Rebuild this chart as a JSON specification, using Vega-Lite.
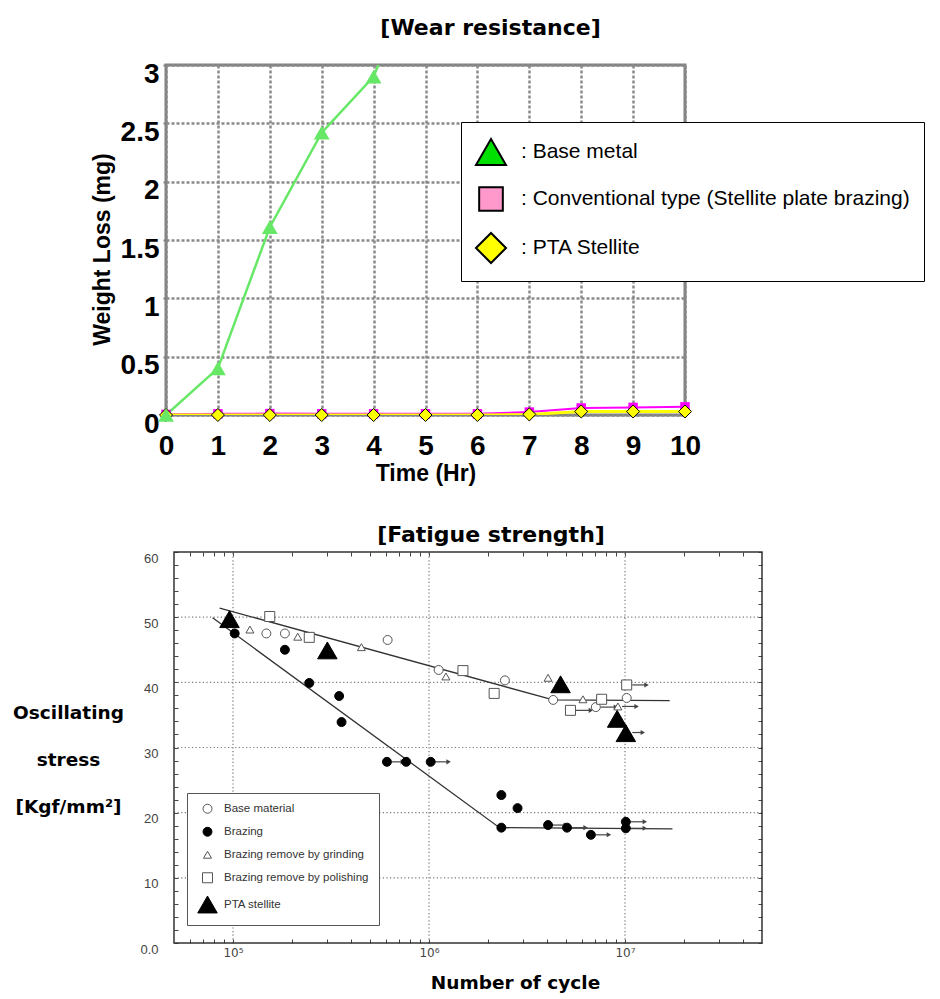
{
  "$schema": "https://vega.github.io/schema/vega-lite/v6.json",
  "background": "white",
  "padding": {"left": 12, "top": 15, "right": 5, "bottom": 5},
  "spacing": 37,
  "config": {"view": {"stroke": null}},
  "resolve": {
    "scale": {"color": "independent", "shape": "independent", "fill": "independent", "stroke": "independent", "size": "independent"},
    "legend": {"color": "independent", "shape": "independent", "fill": "independent", "stroke": "independent", "size": "independent"}
  },
  "datasets": {
    "wear": [
      {"metal": "Conventional type (Stellite plate brazing)", "time": 0, "loss": 0.005},
      {"metal": "Conventional type (Stellite plate brazing)", "time": 1, "loss": 0.01},
      {"metal": "Conventional type (Stellite plate brazing)", "time": 2, "loss": 0.012},
      {"metal": "Conventional type (Stellite plate brazing)", "time": 3, "loss": 0.01},
      {"metal": "Conventional type (Stellite plate brazing)", "time": 4, "loss": 0.01},
      {"metal": "Conventional type (Stellite plate brazing)", "time": 5, "loss": 0.01},
      {"metal": "Conventional type (Stellite plate brazing)", "time": 6, "loss": 0.01},
      {"metal": "Conventional type (Stellite plate brazing)", "time": 7, "loss": 0.025},
      {"metal": "Conventional type (Stellite plate brazing)", "time": 8, "loss": 0.06},
      {"metal": "Conventional type (Stellite plate brazing)", "time": 9, "loss": 0.065},
      {"metal": "Conventional type (Stellite plate brazing)", "time": 10, "loss": 0.07},
      {"metal": "PTA Stellite", "time": 0, "loss": 0},
      {"metal": "PTA Stellite", "time": 1, "loss": 0},
      {"metal": "PTA Stellite", "time": 2, "loss": 0},
      {"metal": "PTA Stellite", "time": 3, "loss": 0},
      {"metal": "PTA Stellite", "time": 4, "loss": 0},
      {"metal": "PTA Stellite", "time": 5, "loss": 0},
      {"metal": "PTA Stellite", "time": 6, "loss": 0},
      {"metal": "PTA Stellite", "time": 7, "loss": 0.005},
      {"metal": "PTA Stellite", "time": 8, "loss": 0.03},
      {"metal": "PTA Stellite", "time": 9, "loss": 0.03},
      {"metal": "PTA Stellite", "time": 10, "loss": 0.03},
      {"metal": "Base metal", "time": 0, "loss": 0},
      {"metal": "Base metal", "time": 1, "loss": 0.4},
      {"metal": "Base metal", "time": 2, "loss": 1.61},
      {"metal": "Base metal", "time": 3, "loss": 2.42},
      {"metal": "Base metal", "time": 4, "loss": 2.9},
      {"metal": "Base metal", "time": 5, "loss": 4.0}
    ],
    "fatigue": [
      {"series": "Base material", "n": 148000, "s": 47.5},
      {"series": "Base material", "n": 184000, "s": 47.5},
      {"series": "Base material", "n": 615000, "s": 46.5},
      {"series": "Base material", "n": 1120000, "s": 41.9},
      {"series": "Base material", "n": 2440000, "s": 40.3},
      {"series": "Base material", "n": 4300000, "s": 37.3},
      {"series": "Base material", "n": 7100000, "s": 36.2},
      {"series": "Base material", "n": 10200000, "s": 37.6},
      {"series": "Brazing", "n": 102000, "s": 47.5},
      {"series": "Brazing", "n": 184000, "s": 45.0},
      {"series": "Brazing", "n": 245000, "s": 39.9},
      {"series": "Brazing", "n": 348000, "s": 37.9},
      {"series": "Brazing", "n": 358000, "s": 33.9},
      {"series": "Brazing", "n": 610000, "s": 27.8},
      {"series": "Brazing", "n": 765000, "s": 27.8},
      {"series": "Brazing", "n": 1020000, "s": 27.8},
      {"series": "Brazing", "n": 2340000, "s": 22.7},
      {"series": "Brazing", "n": 2830000, "s": 20.7},
      {"series": "Brazing", "n": 2340000, "s": 17.7},
      {"series": "Brazing", "n": 4050000, "s": 18.1},
      {"series": "Brazing", "n": 5060000, "s": 17.7},
      {"series": "Brazing", "n": 6700000, "s": 16.6},
      {"series": "Brazing", "n": 10100000, "s": 18.6},
      {"series": "Brazing", "n": 10100000, "s": 17.6},
      {"series": "Brazing remove by grinding", "n": 122000, "s": 48.1},
      {"series": "Brazing remove by grinding", "n": 214000, "s": 47.0},
      {"series": "Brazing remove by grinding", "n": 452000, "s": 45.4},
      {"series": "Brazing remove by grinding", "n": 1220000, "s": 40.9},
      {"series": "Brazing remove by grinding", "n": 4050000, "s": 40.7},
      {"series": "Brazing remove by grinding", "n": 6100000, "s": 37.4},
      {"series": "Brazing remove by grinding", "n": 9200000, "s": 36.3},
      {"series": "Brazing remove by polishing", "n": 154000, "s": 50.1},
      {"series": "Brazing remove by polishing", "n": 245000, "s": 46.9},
      {"series": "Brazing remove by polishing", "n": 1490000, "s": 41.8},
      {"series": "Brazing remove by polishing", "n": 2150000, "s": 38.3},
      {"series": "Brazing remove by polishing", "n": 5270000, "s": 35.7},
      {"series": "Brazing remove by polishing", "n": 7600000, "s": 37.4},
      {"series": "Brazing remove by polishing", "n": 10200000, "s": 39.6},
      {"series": "PTA stellite", "n": 96000, "s": 49.7},
      {"series": "PTA stellite", "n": 303000, "s": 44.9},
      {"series": "PTA stellite", "n": 4690000, "s": 39.7},
      {"series": "PTA stellite", "n": 9120000, "s": 34.4},
      {"series": "PTA stellite", "n": 10100000, "s": 32.2}
    ],
    "fit": [
      {"line": "upper", "n": 85500, "s": 51.4},
      {"line": "upper", "n": 4300000, "s": 37.3},
      {"line": "upper", "n": 16900000, "s": 37.2},
      {"line": "lower", "n": 78700, "s": 49.9},
      {"line": "lower", "n": 2290000, "s": 17.7},
      {"line": "lower", "n": 17460000, "s": 17.5}
    ],
    "arrows": [
      {"n1": 647000, "n2": 735000, "s": 27.8},
      {"n1": 1072000, "n2": 1259000, "s": 27.8},
      {"n1": 4266000, "n2": 4989000, "s": 18.1},
      {"n1": 5321000, "n2": 6295000, "s": 17.7},
      {"n1": 7079000, "n2": 8279000, "s": 16.6},
      {"n1": 10640000, "n2": 12620000, "s": 18.6},
      {"n1": 10640000, "n2": 12620000, "s": 17.6},
      {"n1": 5585000, "n2": 6699000, "s": 35.7},
      {"n1": 7516000, "n2": 8995000, "s": 36.2},
      {"n1": 9661000, "n2": 11460000, "s": 36.3},
      {"n1": 10890000, "n2": 12880000, "s": 39.6},
      {"n1": 10890000, "n2": 12330000, "s": 32.3}
    ],
    "gridH": [{"s": 10}, {"s": 20}, {"s": 30}, {"s": 40}, {"s": 50}],
    "gridV": [{"n": 100000}, {"n": 1000000}, {"n": 10000000}]
  },
  "vconcat": [
    {
      "width": 519,
      "height": 350,
      "view": {"stroke": "#808080", "strokeWidth": 3},
      "title": {"text": "[Wear resistance]", "font": "DejaVu Sans", "fontSize": 22, "fontWeight": "bold", "color": "black", "anchor": "middle", "frame": "group", "dx": 65, "baseline": "alphabetic", "offset": 3},
      "data": {"name": "wear"},
      "layer": [
        {
          "transform": [{"filter": "datum.metal === 'Conventional type (Stellite plate brazing)'"}],
          "mark": {"type": "line", "clip": true, "strokeWidth": 2, "color": "#ff00ff"},
          "encoding": {
            "x": {"field": "time", "type": "quantitative", "scale": {"domain": [0, 10], "nice": false, "zero": false},
              "axis": {"values": [0, 1, 2, 3, 4, 5, 6, 7, 8, 9, 10], "title": "Time (Hr)", "titleFont": "Liberation Sans", "titleFontSize": 23, "titleFontWeight": "bold", "titleColor": "black", "titleBaseline": "alphabetic", "titleY": 65,
                "labelFont": "Liberation Sans", "labelFontSize": 28, "labelFontWeight": "bold", "labelColor": "black", "labelPadding": 17, "labelFlush": false, "labelOverlap": false,
                "ticks": false, "domain": false, "grid": true, "gridColor": "#8a8a8a", "gridDash": [3, 2], "gridWidth": 2.5}},
            "y": {"field": "loss", "type": "quantitative", "scale": {"domain": [0, 3], "nice": false},
              "axis": {"values": [0, 0.5, 1, 1.5, 2, 2.5, 3], "format": "~g", "title": "Weight Loss (mg)", "titleFont": "Liberation Sans", "titleFontSize": 23, "titleFontWeight": "bold", "titleColor": "black", "titleAngle": -90, "titleAlign": "center", "titleBaseline": "middle", "titleX": -64, "titleY": 184,
                "labelFont": "Liberation Sans", "labelFontSize": 28, "labelFontWeight": "bold", "labelColor": "black", "labelPadding": 4, "labelOffset": 9, "labelFlush": false, "labelOverlap": false,
                "ticks": true, "tickSize": 3, "tickColor": "#808080", "tickWidth": 2, "domain": false, "grid": true, "gridColor": "#8a8a8a", "gridDash": [3, 2], "gridWidth": 2.5}}
          }
        },
        {
          "transform": [{"filter": "datum.metal === 'PTA Stellite'"}],
          "mark": {"type": "line", "clip": true, "strokeWidth": 3, "color": "#ffff00"},
          "encoding": {
            "x": {"field": "time", "type": "quantitative"},
            "y": {"field": "loss", "type": "quantitative"}
          }
        },
        {
          "transform": [{"filter": "datum.metal === 'Base metal'"}],
          "mark": {"type": "line", "clip": true, "strokeWidth": 2.5, "color": "#66e866"},
          "encoding": {
            "x": {"field": "time", "type": "quantitative"},
            "y": {"field": "loss", "type": "quantitative"}
          }
        },
        {
          "transform": [{"filter": "datum.metal === 'Conventional type (Stellite plate brazing)' && datum.loss <= 3"}],
          "mark": {"type": "point", "shape": "square", "filled": true, "color": "#ff00ff", "size": 90, "opacity": 1},
          "encoding": {
            "x": {"field": "time", "type": "quantitative"},
            "y": {"field": "loss", "type": "quantitative"}
          }
        },
        {
          "transform": [{"filter": "datum.metal === 'PTA Stellite' && datum.loss <= 3"}],
          "mark": {"type": "point", "shape": "diamond", "filled": true, "fill": "#ffff00", "stroke": "black", "strokeWidth": 1, "size": 170, "opacity": 1},
          "encoding": {
            "x": {"field": "time", "type": "quantitative"},
            "y": {"field": "loss", "type": "quantitative"}
          }
        },
        {
          "transform": [{"filter": "datum.metal === 'Base metal' && datum.loss <= 3"}],
          "mark": {"type": "point", "shape": "triangle-up", "filled": true, "color": "#66e866", "size": 250, "opacity": 1},
          "encoding": {
            "x": {"field": "time", "type": "quantitative"},
            "y": {"field": "loss", "type": "quantitative"}
          }
        },
        {
          "transform": [{"filter": "false"}],
          "mark": {"type": "point", "filled": true, "strokeWidth": 2, "opacity": 1},
          "encoding": {
            "x": {"field": "time", "type": "quantitative"},
            "y": {"field": "loss", "type": "quantitative"},
            "shape": {"field": "metal", "type": "nominal",
              "scale": {"domain": ["Base metal", "Conventional type (Stellite plate brazing)", "PTA Stellite"], "range": ["triangle-up", "square", "diamond"]},
              "legend": {"orient": "none", "legendX": 295, "legendY": 57, "title": null, "padding": 14, "strokeColor": "black", "fillColor": "white",
                "rowPadding": 14, "labelFont": "Liberation Sans", "labelFontSize": 21, "labelColor": "black", "labelOffset": 14, "labelLimit": 600,
                "symbolStrokeWidth": 2, "symbolOpacity": 1, "labelExpr": "': ' + datum.label"}},
            "fill": {"field": "metal", "type": "nominal",
              "scale": {"domain": ["Base metal", "Conventional type (Stellite plate brazing)", "PTA Stellite"], "range": ["#00e000", "#ff99cc", "#ffff00"]},
              "legend": {"orient": "none", "legendX": 295, "legendY": 57, "title": null}},
            "stroke": {"field": "metal", "type": "nominal",
              "scale": {"domain": ["Base metal", "Conventional type (Stellite plate brazing)", "PTA Stellite"], "range": ["black", "black", "black"]},
              "legend": {"orient": "none", "legendX": 295, "legendY": 57, "title": null}},
            "size": {"field": "metal", "type": "nominal",
              "scale": {"type": "ordinal", "domain": ["Base metal", "Conventional type (Stellite plate brazing)", "PTA Stellite"], "range": [900, 560, 900]},
              "legend": {"orient": "none", "legendX": 295, "legendY": 57, "title": null}}
          }
        }
      ]
    },
    {
      "width": 596,
      "height": 391,
      "title": {"text": "[Fatigue strength]", "font": "DejaVu Sans", "fontSize": 22, "fontWeight": "bold", "color": "black", "anchor": "middle", "frame": "group", "dx": 27, "baseline": "alphabetic", "offset": -13},
      "resolve": {"axis": {"x": "independent", "y": "independent"}},
      "layer": [
        {
          "data": {"name": "gridH"},
          "mark": {"type": "rule", "color": "#777777", "strokeWidth": 1.2, "strokeDash": [1.2, 2.4]},
          "encoding": {
            "x": {"datum": 50000, "type": "quantitative", "scale": {"type": "log", "domain": [45520, 50000000], "nice": false}, "axis": null},
            "x2": {"datum": 50000000},
            "y": {"field": "s", "type": "quantitative", "scale": {"domain": [0, 60], "nice": false}, "axis": null}
          }
        },
        {
          "data": {"name": "gridV"},
          "mark": {"type": "rule", "color": "#777777", "strokeWidth": 1.2, "strokeDash": [1.2, 2.4]},
          "encoding": {
            "x": {"field": "n", "type": "quantitative", "axis": null},
            "y": {"datum": 0, "type": "quantitative", "axis": null},
            "y2": {"datum": 60}
          }
        },
        {
          "data": {"values": [{"frame": 1}]},
          "mark": {"type": "rect", "filled": false, "fill": "transparent", "stroke": "#333333", "strokeWidth": 1.5},
          "encoding": {
            "x": {"datum": 50000, "type": "quantitative",
              "axis": {"orient": "top", "values": [60000, 70000, 80000, 90000, 100000, 200000, 300000, 400000, 500000, 600000, 700000, 800000, 900000, 1000000, 2000000, 3000000, 4000000, 5000000, 6000000, 7000000, 8000000, 9000000, 10000000, 20000000, 30000000, 40000000],
                "labels": false, "domain": false, "grid": false, "title": null, "tickSize": -4, "tickColor": "#444444", "tickWidth": 1}},
            "x2": {"datum": 50000000},
            "y": {"datum": 0, "type": "quantitative",
              "axis": {"orient": "right", "values": [0, 2, 4, 6, 8, 10, 12, 14, 16, 18, 20, 22, 24, 26, 28, 30, 32, 34, 36, 38, 40, 42, 44, 46, 48, 50, 52, 54, 56, 58, 60],
                "labels": false, "domain": false, "grid": false, "title": null, "tickSize": -4, "tickColor": "#444444", "tickWidth": 1}},
            "y2": {"datum": 60}
          }
        },
        {
          "data": {"name": "fit"},
          "mark": {"type": "line", "color": "#333333", "strokeWidth": 1.3},
          "encoding": {
            "x": {"field": "n", "type": "quantitative", "axis": null},
            "y": {"field": "s", "type": "quantitative", "axis": null},
            "detail": {"field": "line", "type": "nominal"}
          }
        },
        {
          "data": {"name": "arrows"},
          "mark": {"type": "rule", "color": "#444444", "strokeWidth": 1.2},
          "encoding": {
            "x": {"field": "n1", "type": "quantitative", "axis": null},
            "x2": {"field": "n2"},
            "y": {"field": "s", "type": "quantitative", "axis": null}
          }
        },
        {
          "data": {"name": "arrows"},
          "mark": {"type": "point", "shape": "triangle-right", "filled": true, "color": "#444444", "size": 26, "opacity": 1},
          "encoding": {
            "x": {"field": "n2", "type": "quantitative", "axis": null},
            "y": {"field": "s", "type": "quantitative", "axis": null}
          }
        },
        {
          "data": {"name": "fatigue"},
          "mark": {"type": "point", "filled": true, "strokeWidth": 1, "opacity": 1},
          "encoding": {
            "x": {"field": "n", "type": "quantitative",
              "axis": {"orient": "bottom", "values": [60000, 70000, 80000, 90000, 100000, 200000, 300000, 400000, 500000, 600000, 700000, 800000, 900000, 1000000, 2000000, 3000000, 4000000, 5000000, 6000000, 7000000, 8000000, 9000000, 10000000, 20000000, 30000000, 40000000],
                "labelExpr": "datum.value === 100000 ? '10⁵' : datum.value === 1000000 ? '10⁶' : datum.value === 10000000 ? '10⁷' : ''",
                "labelFont": "DejaVu Sans", "labelFontSize": 12, "labelColor": "#444444", "labelPadding": 8, "labelOverlap": false, "labelFlush": false,
                "domain": false, "grid": false, "tickSize": -4, "tickColor": "#444444", "tickWidth": 1,
                "title": "Number of cycle", "titleFont": "DejaVu Sans", "titleFontSize": 18.5, "titleFontWeight": "bold", "titleColor": "black", "titleBaseline": "alphabetic", "titleAlign": "center", "titleX": 349, "titleY": 45}},
            "y": {"field": "s", "type": "quantitative",
              "axis": {"orient": "left", "offset": -8, "values": [0, 2, 4, 6, 8, 10, 12, 14, 16, 18, 20, 22, 24, 26, 28, 30, 32, 34, 36, 38, 40, 42, 44, 46, 48, 50, 52, 54, 56, 58, 60],
                "labelExpr": "datum.value % 10 === 0 ? (datum.value === 0 ? '0.0' : datum.label) : ''",
                "labelFont": "Liberation Sans", "labelFontSize": 13, "labelColor": "#444444", "labelPadding": 20, "labelOffset": 6, "labelOverlap": false, "labelFlush": false,
                "domain": false, "grid": false, "tickSize": -4, "tickColor": "#444444", "tickWidth": 1,
                "title": ["Oscillating", "stress", "[Kgf/mm²]"], "titleFont": "DejaVu Sans", "titleFontSize": 18.5, "titleFontWeight": "bold", "titleColor": "black", "titleAngle": 0, "titleAlign": "center", "titleBaseline": "middle", "titleLineHeight": 47, "titleX": -106, "titleY": 160}},
            "shape": {"field": "series", "type": "nominal",
              "scale": {"domain": ["Base material", "Brazing", "Brazing remove by grinding", "Brazing remove by polishing", "PTA stellite"], "range": ["circle", "circle", "triangle-up", "square", "triangle-up"]},
              "legend": {"orient": "none", "legendX": 21, "legendY": 241, "title": null, "padding": 10, "strokeColor": "#555555", "fillColor": "white", "rowPadding": 9,
                "labelFont": "Liberation Sans", "labelFontSize": 11.5, "labelColor": "#333333", "labelOffset": 6, "labelLimit": 300, "symbolStrokeWidth": 1}},
            "fill": {"field": "series", "type": "nominal",
              "scale": {"domain": ["Base material", "Brazing", "Brazing remove by grinding", "Brazing remove by polishing", "PTA stellite"], "range": ["white", "black", "white", "white", "black"]},
              "legend": {"orient": "none", "legendX": 21, "legendY": 241, "title": null}},
            "stroke": {"field": "series", "type": "nominal",
              "scale": {"domain": ["Base material", "Brazing", "Brazing remove by grinding", "Brazing remove by polishing", "PTA stellite"], "range": ["#555555", "black", "#555555", "#555555", "black"]},
              "legend": {"orient": "none", "legendX": 21, "legendY": 241, "title": null}},
            "size": {"field": "series", "type": "nominal",
              "scale": {"type": "ordinal", "domain": ["Base material", "Brazing", "Brazing remove by grinding", "Brazing remove by polishing", "PTA stellite"], "range": [80, 80, 64, 100, 380]},
              "legend": {"orient": "none", "legendX": 21, "legendY": 241, "title": null}}
          }
        }
      ]
    }
  ]
}
